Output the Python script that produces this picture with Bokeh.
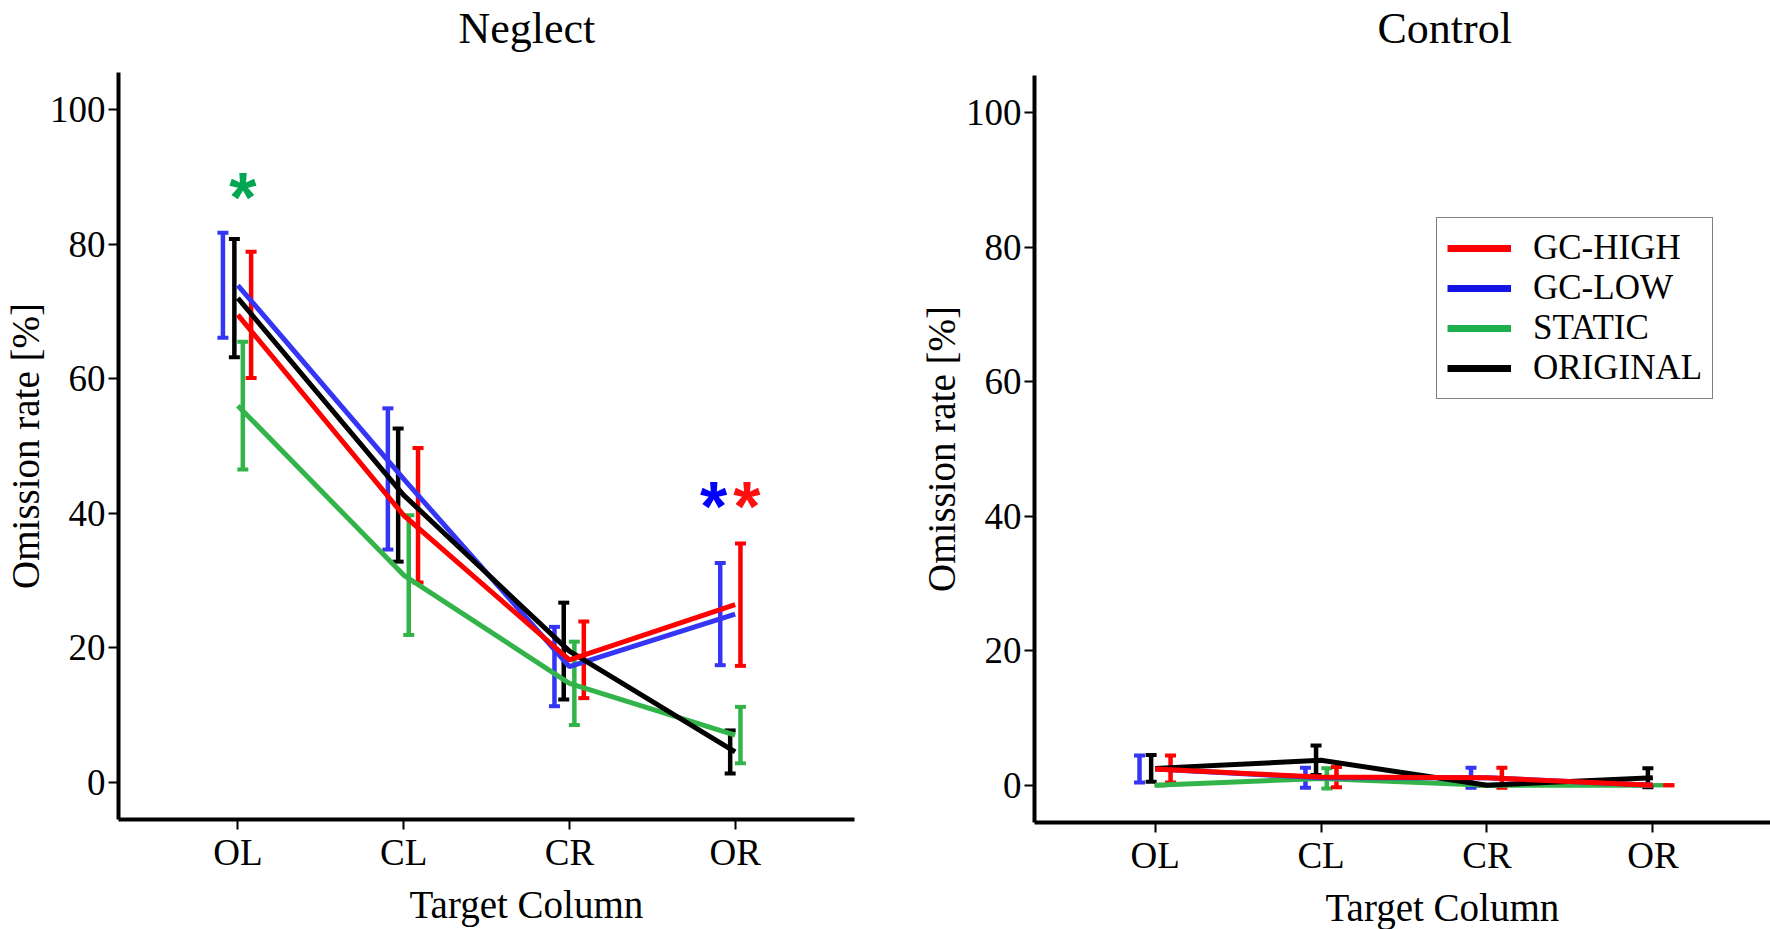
from bokeh.plotting import figure
from bokeh.layouts import row
from bokeh.models import (Range1d, FixedTicker, Whisker, TeeHead, ColumnDataSource,
                          Legend, LegendItem, Title)
from bokeh.core.properties import value
from bokeh.embed import file_html
from bokeh.resources import INLINE

# ---------------- data ----------------
categories = ["OL", "CL", "CR", "OR"]
series_names = ["GC-HIGH", "GC-LOW", "STATIC", "ORIGINAL"]
y_ticks = [0, 20, 40, 60, 80, 100]

neglect_gc_high = [69.5, 39.7, 18.2, 26.4]
neglect_gc_high_err = [9.4, 10.0, 5.7, 9.1]
neglect_gc_low = [73.9, 45.1, 17.2, 25.0]
neglect_gc_low_err = [7.8, 10.5, 5.9, 7.6]
neglect_static = [56.0, 30.8, 14.7, 7.0]
neglect_static_err = [9.5, 8.9, 6.2, 4.2]
neglect_original = [72.0, 42.7, 19.5, 4.5]
neglect_original_err = [8.8, 9.9, 7.2, 3.2]

control_gc_high = [2.4, 1.2, 1.1, 0.0]
control_gc_high_err = [2.0, 1.5, 1.5, 0.0]
control_gc_low = [2.4, 1.1, 1.1, 0.0]
control_gc_low_err = [2.0, 1.5, 1.5, 0.0]
control_static = [0.0, 1.0, 0.0, 0.0]
control_static_err = [0.0, 1.5, 0.0, 0.0]
control_original = [2.5, 3.7, 0.0, 1.1]
control_original_err = [2.0, 2.2, 0.0, 1.4]

# significance markers: (category index, offset, y value, series)
neglect_stars = [(0, 0.03, 88.4, "STATIC"), (3, -0.13, 42.4, "GC-LOW"), (3, 0.07, 42.4, "GC-HIGH")]

# ---------------- style ----------------
FONT = "Liberation Serif"
line_colors = {"GC-HIGH": "#FF0000", "GC-LOW": "#3535F5", "STATIC": "#33B44A", "ORIGINAL": "#000000"}
legend_colors = {"GC-HIGH": "#FF0000", "GC-LOW": "#1414E6", "STATIC": "#1DAF4B", "ORIGINAL": "#000000"}
star_colors = {"GC-HIGH": "#FF1010", "GC-LOW": "#0000FF", "STATIC": "#00A651"}

neglect_offsets = {"GC-HIGH": [0.08, 0.087, 0.087, 0.032], "GC-LOW": [-0.09, -0.095, -0.09, -0.09],
                   "STATIC": [0.03, 0.031, 0.03, 0.032], "ORIGINAL": [-0.021, -0.033, -0.034, -0.03]}
control_offsets = {"GC-HIGH": [0.093, 0.093, 0.09, 0.096], "GC-LOW": [-0.094, -0.094, -0.096, -0.09],
                   "STATIC": [0.03, 0.035, 0.03, 0.03], "ORIGINAL": [-0.024, -0.03, -0.04, -0.03]}

draw_order = ["STATIC", "GC-LOW", "ORIGINAL", "GC-HIGH"]

neglect_data = {"GC-HIGH": (neglect_gc_high, neglect_gc_high_err),
                "GC-LOW": (neglect_gc_low, neglect_gc_low_err),
                "STATIC": (neglect_static, neglect_static_err),
                "ORIGINAL": (neglect_original, neglect_original_err)}
control_data = {"GC-HIGH": (control_gc_high, control_gc_high_err),
                "GC-LOW": (control_gc_low, control_gc_low_err),
                "STATIC": (control_static, control_static_err),
                "ORIGINAL": (control_original, control_original_err)}

xpos = list(range(1, len(categories) + 1))
FRAME_H = 747
TOP_BORDER = 114


def make_panel(title, data, offsets, x_start, x_end, frame_w,
               b_left, b_right, b_bottom, lift, title_off, title_standoff, xlabel_off):
    p = figure(frame_width=frame_w, frame_height=FRAME_H,
               x_range=Range1d(x_start, x_end), y_range=Range1d(-5.55, 105.55),
               output_backend="svg", toolbar_location=None,
               min_border_left=b_left, min_border_right=b_right,
               min_border_top=TOP_BORDER, min_border_bottom=b_bottom,
               styles={"margin-top": f"-{lift}px"})
    p.outline_line_color = None
    p.grid.visible = False
    p.background_fill_color = "white"
    p.border_fill_color = "white"

    p.title.text = title
    p.title.align = "left"
    p.title.offset = title_off
    p.title.standoff = title_standoff
    p.title.text_font = FONT
    p.title.text_font_size = "44px"
    p.title.text_font_style = "normal"
    p.title.text_color = "black"

    bx = p.xaxis[0]
    by = p.yaxis[0]
    for ax in (bx, by):
        ax.axis_line_width = 4
        ax.axis_line_color = "black"
        ax.major_tick_line_width = 2
        ax.major_tick_line_color = "black"
        ax.major_tick_out = 10
        ax.major_tick_in = 0
        ax.minor_tick_out = 0
        ax.minor_tick_in = 0
        ax.major_label_text_font = FONT
        ax.major_label_text_font_size = "37px"
        ax.major_label_text_color = "black"
    bx.major_label_standoff = 2
    by.major_label_standoff = 3

    bx.ticker = FixedTicker(ticks=xpos)
    bx.major_label_overrides = {x: c for x, c in zip(xpos, categories)}
    by.ticker = FixedTicker(ticks=y_ticks)
    by.axis_label = "Omission rate [%]"
    by.axis_label_text_font = FONT
    by.axis_label_text_font_size = "39px"
    by.axis_label_text_font_style = "normal"
    by.axis_label_text_color = "black"
    by.axis_label_standoff = 0

    xt = Title(text="Target Column", align="left", offset=xlabel_off, standoff=10,
               text_font=FONT, text_font_size="39px", text_font_style="normal",
               text_color="black")
    p.add_layout(xt, "below")

    for name in draw_order:
        means, errs = data[name]
        p.line(xpos, means, line_color=line_colors[name], line_width=5)

    for name in draw_order:
        means, errs = data[name]
        src = ColumnDataSource(dict(
            x=[x + o for x, o in zip(xpos, offsets[name])],
            upper=[m + e for m, e in zip(means, errs)],
            lower=[m - e for m, e in zip(means, errs)]))
        c = line_colors[name]
        w = Whisker(source=src, base="x", upper="upper", lower="lower", dimension="height",
                    line_color=c, line_width=4.5,
                    upper_head=TeeHead(size=11, line_color=c, line_width=4),
                    lower_head=TeeHead(size=11, line_color=c, line_width=4))
        p.add_layout(w)
    return p


p1 = make_panel("Neglect", neglect_data, neglect_offsets, 0.28, 4.72, 736,
                117, 62, 102, 42, 340, 40, 291)
p2 = make_panel("Control", control_data, control_offsets, 0.273, 4.709, 736,
                117, 0, 102, 39, 343, 46, 291)

# significance stars
sx = [xpos[i] + o for i, o, _, _ in neglect_stars]
sy = [v for _, _, v, _ in neglect_stars]
sc = [star_colors[s] for _, _, _, s in neglect_stars]
p1.text(x=sx, y=sy, text=["*"] * len(sx), text_color=sc,
        text_font=value("Liberation Sans"), text_font_style="bold",
        text_font_size="70px", text_align="center", text_baseline="alphabetic",
        y_offset=10)

# legend in control panel
nan = float("nan")
items = []
for name in series_names:
    r = p2.line([nan], [nan], line_color=legend_colors[name], line_width=7)
    items.append(LegendItem(label=name, renderers=[r]))
legend = Legend(items=items, location=(402, 423),
                label_text_font=FONT, label_text_font_size="35px", label_text_color="black",
                glyph_width=64, glyph_height=36, label_height=36, spacing=0,
                padding=10, label_standoff=22, margin=0,
                border_line_color="black", border_line_width=1.3,
                background_fill_color="white", background_fill_alpha=1.0)
p2.add_layout(legend)

layout = row(p1, p2)
open("out.html", "w").write(file_html(layout, INLINE))
